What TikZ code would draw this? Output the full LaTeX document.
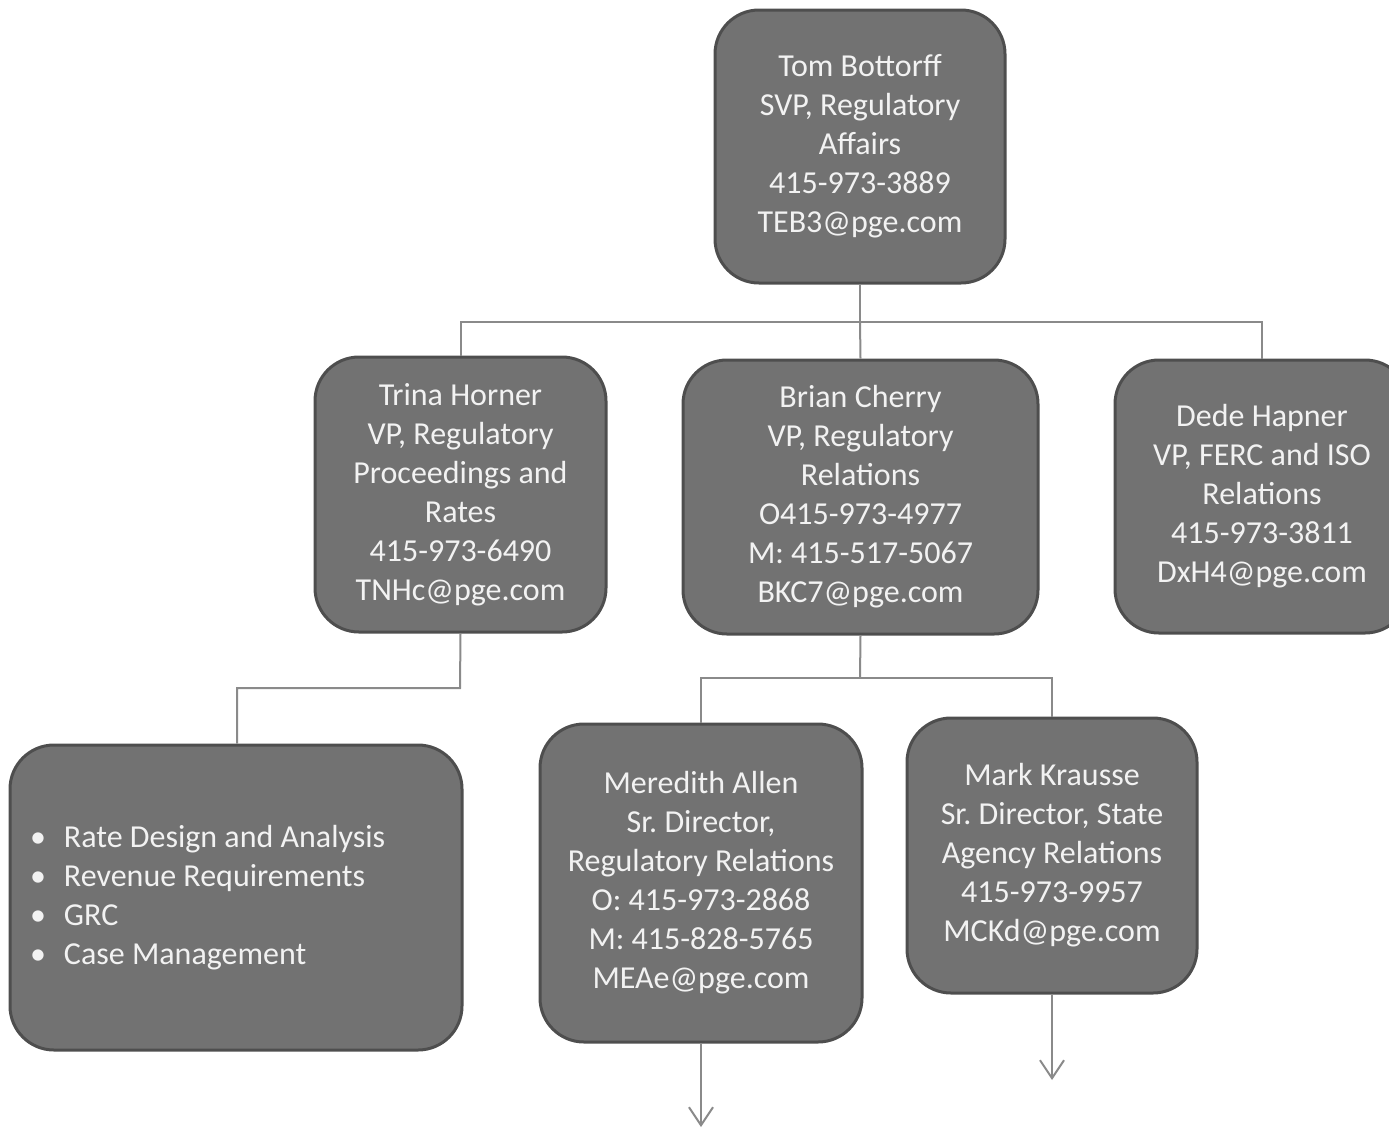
\documentclass[tikz,border=0pt]{standalone}
\usepackage{fontspec}
\setmainfont{Carlito}
\usetikzlibrary{arrows.meta}
\frenchspacing
\definecolor{boxfill}{HTML}{727272}
\definecolor{boxline}{HTML}{4E4E4E}
\definecolor{conn}{HTML}{8A8A8A}
\definecolor{txt}{HTML}{F2F2F2}
\newcommand{\bulletitem}[1]{\makebox[34pt][l]{\textbullet}#1}
\tikzset{
  orgbox/.style={draw=boxline, line width=3pt, fill=boxfill, rounded corners=44pt,
    text=txt, align=center, inner sep=0pt,
    font=\fontsize{32}{39}\selectfont},
  link/.style={draw=conn, line width=2pt},
  downarrow/.style={link, -{Straight Barb[length=18pt,width=24pt,line width=2pt]}}
}
\begin{document}
\begin{tikzpicture}[x=1pt,y=-1pt]
\useasboundingbox (0,0) rectangle (1389,1128);
% boxes
\node[orgbox, minimum width=290pt, minimum height=273pt] (tom) at (860,146.5)
  {Tom Bottorff\\SVP, Regulatory\\Affairs\\415-973-3889\\TEB3@pge.com};
\node[orgbox, minimum width=291pt, minimum height=275pt] (trina) at (460.5,494.5)
  {Trina Horner\\VP, Regulatory\\Proceedings and\\Rates\\415-973-6490\\TNHc@pge.com};
\node[orgbox, minimum width=355pt, minimum height=274pt] (brian) at (860.5,497)
  {Brian Cherry\\VP, Regulatory\\Relations\\O415-973-4977\\M: 415-517-5067\\BKC7@pge.com};
\node[orgbox, minimum width=294pt, minimum height=273pt] (dede) at (1262,496.5)
  {Dede Hapner\\VP, FERC and ISO\\Relations\\415-973-3811\\DxH4@pge.com};
\node[orgbox, minimum width=452pt, minimum height=305pt, text width=424pt, align=flush left] (tasks) at (236,897.5)
  {\hspace*{6pt}\bulletitem{Rate Design and Analysis}\\
   \hspace*{6pt}\bulletitem{Revenue Requirements}\\
   \hspace*{6pt}\bulletitem{GRC}\\
   \hspace*{6pt}\bulletitem{Case Management}};
\node[orgbox, minimum width=322pt, minimum height=318pt] (meredith) at (701,883)
  {Meredith Allen\\Sr. Director,\\Regulatory Relations\\O: 415-973-2868\\M: 415-828-5765\\MEAe@pge.com};
\node[orgbox, minimum width=290pt, minimum height=275pt] (mark) at (1052,855.5)
  {Mark Krausse\\Sr. Director, State\\Agency Relations\\415-973-9957\\MCKd@pge.com};
% connectors
\coordinate (j1) at (860,322);
\coordinate (j2) at (460,688);
\coordinate (j3) at (860,678);
\draw[link] (tom.south) -- (j1);
\draw[link] (j1) -| (trina.north);
\draw[link] (j1) -- (brian.north);
\draw[link] (j1) -| (dede.north);
\draw[link] (trina.south) -- (j2) -| (tasks.north -| 237,0);
\draw[link] (brian.south) -- (j3);
\draw[link] (j3) -| (meredith.north);
\draw[link] (j3) -| (mark.north);
\coordinate (e1) at (701,1127);
\coordinate (e2) at (1052,1080);
\draw[downarrow] (meredith.south) -- (e1);
\draw[downarrow] (mark.south) -- (e2);
\end{tikzpicture}
\end{document}
